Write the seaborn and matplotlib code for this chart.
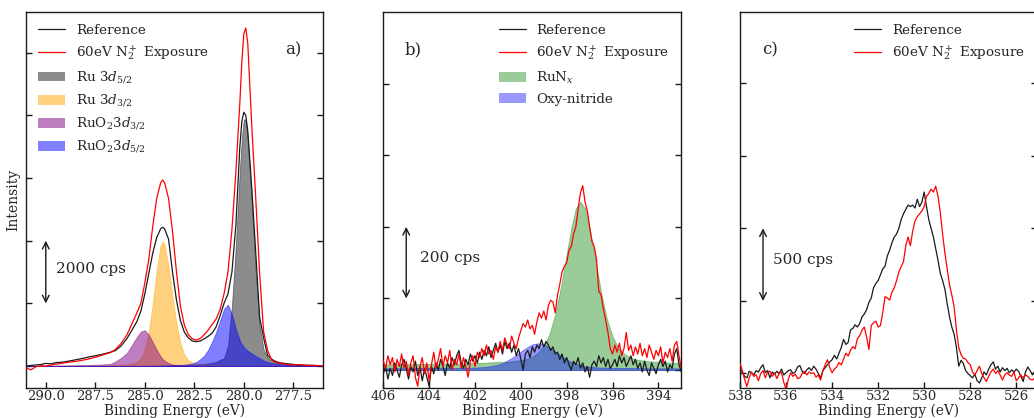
import matplotlib
matplotlib.use('Agg')
import matplotlib.pyplot as plt
import seaborn as sns

# ---------------- panel a : Ru 3d ----------------
E_a = [291.0, 290.75, 290.5, 290.25, 290.0, 289.75, 289.5, 289.25, 289.0, 288.75,
       288.5, 288.25, 288.0, 287.75, 287.5, 287.25, 287.0, 286.75, 286.5, 286.2,
       285.9, 285.6, 285.4, 285.2, 285.0, 284.8, 284.6, 284.4, 284.2, 284.1,
       284.0, 283.8, 283.6, 283.4, 283.2, 283.0, 282.8, 282.6, 282.4, 282.2,
       282.0, 281.8, 281.6, 281.4, 281.2, 281.0, 280.8, 280.6, 280.4, 280.2,
       280.1, 280.0, 279.9, 279.8, 279.6, 279.4, 279.2, 279.0, 278.8, 278.6,
       278.4, 278.2, 278.0, 277.75, 277.5, 277.25, 277.0, 276.75, 276.5, 276.25, 276.0]
ref_a = [0, 20, 35, 50, 85, 70, 110, 120, 140, 170,
         200, 230, 265, 300, 330, 360, 400, 440, 490, 640,
         880, 1200, 1420, 1750, 2300, 2950, 3600, 4100, 4380, 4430,
         4380, 4050, 3000, 2100, 1450, 1080, 900, 800, 780, 800,
         870, 950, 1050, 1250, 1600, 2000, 2300, 3000, 4500, 7000,
         7800, 8100, 8000, 7500, 5700, 3650, 1550, 900, 340, 220,
         150, 110, 90, 70, 55, 40, 30, 25, 20, 15, 10]
exp_a = [-60, -120, -20, 10, 0, 30, 60, 80, 107, 130,
         150, 175, 204, 240, 280, 330, 380, 430, 520, 720,
         1000, 1420, 1700, 2000, 2650, 3400, 4450, 5350, 5850, 5940,
         5850, 5350, 4300, 3000, 1900, 1300, 1000, 870, 830, 880,
         1000, 1150, 1330, 1500, 1800, 2300, 3000, 4350, 6200, 8400,
         9700, 10600, 10790, 10300, 7700, 5400, 2950, 1100, 500, 200,
         120, 90, 70, 50, 40, 45, 30, 20, 25, 10, 15]
ru52 = [3, 3, 3, 3, 3, 3, 3, 4, 4, 4,
        4, 5, 5, 5, 5, 6, 6, 7, 7, 8,
        9, 10, 11, 11, 12, 13, 14, 16, 17, 18,
        19, 21, 23, 26, 29, 33, 38, 43, 50, 58,
        70, 85, 105, 135, 200, 250, 650, 1920, 3870, 6270,
        7260, 7870, 7870, 7260, 5300, 3000, 1280, 530, 270, 170,
        120, 95, 80, 62, 50, 42, 36, 30, 25, 22, 20]
ru32 = [4, 4, 5, 5, 6, 6, 7, 7, 8, 9,
        11, 12, 13, 15, 17, 20, 23, 27, 33, 44,
        57, 87, 135, 246, 524, 1084, 1985, 3057, 3855, 3970,
        3875, 3180, 2220, 1350, 715, 357, 187, 115, 80, 62,
        51, 44, 37, 32, 28, 25, 21, 20, 18, 16,
        15, 15, 14, 14, 13, 12, 11, 10, 10, 9,
        9, 8, 8, 7, 7, 6, 6, 6, 5, 5, 5]
ruo2_32 = [10, 11, 12, 13, 15, 16, 18, 20, 22, 24,
           27, 30, 33, 37, 42, 48, 55, 68, 140, 260,
           420, 720, 930, 1100, 1145, 1005, 770, 520, 305, 230,
           170, 90, 50, 32, 23, 18, 15, 13, 11, 10,
           9, 8, 7, 7, 6, 6, 5, 5, 5, 4,
           4, 4, 4, 4, 4, 3, 3, 3, 3, 3,
           3, 3, 2, 2, 2, 2, 2, 2, 2, 2, 2]
ruo2_52 = [1, 1, 1, 1, 1, 1, 1, 2, 2, 2,
           2, 2, 2, 2, 2, 3, 3, 3, 3, 4,
           4, 5, 5, 5, 8, 8, 9, 10, 13, 15,
           17, 20, 24, 28, 35, 45, 60, 80, 130, 220,
           330, 520, 780, 1080, 1450, 1820, 1960, 1650, 1180, 820,
           700, 600, 540, 490, 400, 320, 250, 180, 130, 100,
           80, 65, 55, 47, 40, 35, 30, 27, 25, 22, 20]

# ---------------- panel b : N 1s ----------------
E_b = [round(406.0 - 0.1 * i, 1) for i in range(131)]
ref_b = [-10, 10, -25, 5, -15, 20, 0, -20, 15, 30,
         5, -25, 10, -5, 25, -15, 10, -30, 5, -20,
         -45, 10, -10, 20, 0, 30, 10, -15, 20, 5,
         35, 15, 40, 55, 20, 5, 30, 15, 45, 25,
         40, 20, 50, 30, 55, 40, 65, 35, 55, 75,
         50, 70, 45, 80, 60, 75, 50, 70, 40, 60,
         30, 0, 45, 55, 35, 65, 50, 70, 60, 85,
         65, 80, 70, 55, 65, 45, 50, 30, 45, 20,
         35, 15, 0, 25, 15, 35, 5, 20, -5, 10,
         -20, 15, 25, 10, 40, 20, 35, 10, 30, 5,
         15, 30, 10, 40, 20, 35, 10, 25, 40, 15,
         30, 5, 20, -5, 25, 0, -15, 20, 5, -10,
         15, 30, 10, 25, -5, 15, 5, 45, 60, 15, -5]
exp_b = [25, 5, 40, 15, 35, -5, 30, 10, 45, 5,
         25, -15, 20, 40, -20, -45, 10, 35, -10, 20,
         -30, 15, 50, 5, 30, 60, 10, 40, 20, 55,
         0, 30, 15, 45, 5, 35, 10, -20, 25, 40,
         10, 50, 35, 60, 40, 70, 45, 55, 30, 65,
         50, 80, 55, 90, 70, 60, 95, 75, 60, 90,
         110, 130, 120, 140, 115, 125, 100, 135, 160, 145,
         165, 140, 180, 195, 190, 160, 210, 240, 275, 290,
         300, 335, 345, 380, 400, 450, 495, 515, 470, 445,
         400, 360, 345, 310, 220, 210, 170, 140, 105, 60,
         45, 70, 50, 75, 40, 60, 105, 55, 70, 40,
         65, 45, 75, 40, 60, 35, 70, 50, 30, 55,
         40, 65, 20, 50, 35, 60, 25, 70, 80, 40, 5]
E_bfit = [406.0, 405.5, 405.0, 404.5, 404.0, 403.5, 403.0, 402.5, 402.0, 401.5,
          401.0, 400.75, 400.5, 400.25, 400.0, 399.75, 399.5, 399.25, 399.0, 398.75,
          398.5, 398.25, 398.0, 397.8, 397.6, 397.4, 397.2, 397.0, 396.75, 396.5,
          396.25, 396.0, 395.75, 395.5, 395.25, 395.0, 394.5, 394.0, 393.5, 393.0]
run_x = [16, 16, 17, 17, 17, 18, 18, 19, 20, 21,
         23, 23, 24, 26, 28, 31, 38, 49, 68, 101,
         156, 233, 324, 397, 452, 470, 452, 397, 308, 217,
         143, 94, 62, 46, 36, 30, 25, 23, 21, 20]
oxy_nit = [5, 5, 5, 6, 6, 6, 6, 6, 7, 9,
           15, 21, 30, 40, 52, 63, 72, 75, 72, 63,
           52, 40, 30, 23, 18, 13, 11, 9, 8, 7,
           7, 6, 6, 6, 6, 6, 5, 5, 5, 5]

# ---------------- panel c : O 1s ----------------
E_c = [round(538.0 - 0.1 * i, 1) for i in range(131)]
ref_c = [25, 10, -20, -30, 15, 5, -10, 20, 10, 40,
         60, 5, 20, -30, 10, -5, 15, 0, 30, -10,
         5, 20, 25, 0, 10, 45, 55, 15, 0, 25,
         40, 20, 50, 30, 0, -30, 20, 40, 60, 80,
         95, 125, 100, 140, 180, 235, 200, 215, 300, 310,
         335, 320, 345, 390, 410, 440, 490, 520, 590, 620,
         640, 680, 720, 740, 810, 850, 900, 940, 960, 1000,
         1060, 1100, 1130, 1160, 1150, 1160, 1140, 1200, 1150, 1180,
         1250, 1150, 1060, 1000, 940, 860, 780, 690, 640, 580,
         480, 390, 320, 270, 180, 50, 90, 70, 20, 0,
         -15, -30, -5, -50, -65, -30, 10, -10, 30, 60,
         80, 30, 50, 10, 40, 20, 35, 5, 25, 10,
         30, 15, -20, -55, 10, 45, 20, -10, 15, 30, 10]
exp_c = [70, 20, -40, -90, -30, 10, -20, -10, -50, 0,
         20, -30, 10, 15, -20, 5, -35, 0, 10, -60,
         -110, -40, 5, -20, -5, -35, -30, 0, 15, -10,
         10, 0, 5, -25, -10, -45, 20, 60, 95, 40,
         5, 30, 45, 75, 60, 100, 140, 120, 160, 185,
         170, 240, 260, 300, 320, 250, 165, 330, 350, 360,
         320, 330, 420, 530, 520, 505, 560, 590, 640, 700,
         735, 770, 880, 940, 880, 980, 1050, 1080, 1100, 1120,
         1150, 1220, 1240, 1270, 1250, 1290, 1220, 1110, 960, 830,
         720, 610, 540, 460, 300, 180, 130, 105, 100, 75,
         60, 10, -10, 20, 50, 0, -30, -55, -20, 10,
         30, 0, 20, -10, -45, -10, 5, -10, -20, 10,
         -50, -30, -10, -30, -10, -20, -40, -45, -30, -20, -25]

lbl_ref = 'Reference'
lbl_exp = '60eV N$_2^+$ Exposure'
RED = '#ff0000'
BLUE = '#0000ff'
GREEN = '#008000'

sns.set_theme(style='white')
plt.rcParams['font.family'] = ['DejaVu Serif']
plt.rcParams['mathtext.fontset'] = 'dejavuserif'

fig = plt.figure(figsize=(10.34, 4.18), dpi=100)
ax_a = fig.add_axes([0.02515, 0.07177, 0.28723, 0.89952])
ax_b = fig.add_axes([0.37070, 0.07177, 0.28820, 0.89952])
ax_c = fig.add_axes([0.71567, 0.07177, 0.28723, 0.89952])


def clean_legend(ax, loc):
    leg = ax.legend(loc=loc, frameon=False, fontsize=9.7)
    for h in leg.legend_handles:
        if isinstance(h, matplotlib.patches.Patch):
            h.set_linewidth(0)
    return leg


# panel a
sns.lineplot(x=E_a, y=ref_a, color='k', lw=0.9, label=lbl_ref, ax=ax_a, zorder=3)
sns.lineplot(x=E_a, y=exp_a, color=RED, lw=0.9, label=lbl_exp, ax=ax_a, zorder=3)
ax_a.fill_between(E_a, ru52, color='k', alpha=0.5, lw=0.6, label='Ru 3$d_{5/2}$')
ax_a.fill_between(E_a, ru32, color='orange', alpha=0.5, lw=0.6, label='Ru 3$d_{3/2}$')
ax_a.fill_between(E_a, ruo2_32, color='purple', alpha=0.5, lw=0.6, label='RuO$_2$3$d_{3/2}$')
ax_a.fill_between(E_a, ruo2_52, color=BLUE, alpha=0.5, lw=0.6, label='RuO$_2$3$d_{5/2}$')
ax_a.set_xlim(291, 276)
ax_a.set_ylim(-700, 11300)
ax_a.set_xticks([290.0, 287.5, 285.0, 282.5, 280.0, 277.5])
ax_a.set_xticklabels(['290.0', '287.5', '285.0', '282.5', '280.0', '277.5'])
ax_a.set_yticks([0, 2000, 4000, 6000, 8000, 10000])
clean_legend(ax_a, 'upper left')
ax_a.annotate('', xy=(290, 2000), xytext=(290, 4000),
              arrowprops=dict(arrowstyle='<->', color='k', lw=1, shrinkA=0, shrinkB=0))
ax_a.text(289.48, 3100, '2000 cps', fontsize=11, va='center', ha='left')
ax_a.text(0.872, 0.90, 'a)', transform=ax_a.transAxes, fontsize=12, va='center', ha='left')
ax_a.set_ylabel('Intensity', fontsize=10, labelpad=4)

# panel b
sns.lineplot(x=E_b, y=ref_b, color='k', lw=0.9, label=lbl_ref, ax=ax_b, zorder=3)
sns.lineplot(x=E_b, y=exp_b, color=RED, lw=0.9, label=lbl_exp, ax=ax_b, zorder=3)
ax_b.fill_between(E_bfit, run_x, color=GREEN, alpha=0.4, lw=0.6, label='RuN$_x$')
ax_b.fill_between(E_bfit, oxy_nit, color=BLUE, alpha=0.4, lw=0.6, label='Oxy-nitride')
ax_b.set_xlim(406, 393)
ax_b.set_ylim(-50, 1000)
ax_b.set_xticks([406, 404, 402, 400, 398, 396, 394])
ax_b.set_yticks([0, 200, 400, 600, 800])
clean_legend(ax_b, 'upper right')
ax_b.annotate('', xy=(405, 200), xytext=(405, 400),
              arrowprops=dict(arrowstyle='<->', color='k', lw=1, shrinkA=0, shrinkB=0))
ax_b.text(404.39, 313, '200 cps', fontsize=11, va='center', ha='left')
ax_b.text(0.07, 0.90, 'b)', transform=ax_b.transAxes, fontsize=12, va='center', ha='left')

# panel c
sns.lineplot(x=E_c, y=ref_c, color='k', lw=0.9, label=lbl_ref, ax=ax_c, zorder=3)
sns.lineplot(x=E_c, y=exp_c, color=RED, lw=0.9, label=lbl_exp, ax=ax_c, zorder=3)
ax_c.set_xlim(538, 525.1)
ax_c.set_ylim(-100, 2490)
ax_c.set_xticks([538, 536, 534, 532, 530, 528, 526])
ax_c.set_yticks([0, 500, 1000, 1500, 2000])
clean_legend(ax_c, 'upper right')
ax_c.annotate('', xy=(537, 500), xytext=(537, 1000),
              arrowprops=dict(arrowstyle='<->', color='k', lw=1, shrinkA=0, shrinkB=0))
ax_c.text(536.58, 780, '500 cps', fontsize=11, va='center', ha='left')
ax_c.text(0.073, 0.90, 'c)', transform=ax_c.transAxes, fontsize=12, va='center', ha='left')

for ax in (ax_a, ax_b, ax_c):
    for sp in ax.spines.values():
        sp.set_color('k')
        sp.set_linewidth(1)
    ax.tick_params(axis='y', left=True, right=True, labelleft=False, direction='in',
                   length=4.5, width=1, color='k')
    ax.tick_params(axis='x', bottom=True, top=False, direction='in', length=4.5,
                   width=1, color='k', labelsize=9.5, pad=1.5)
    ax.set_xlabel('Binding Energy (eV)', fontsize=9.8, labelpad=0.7)

fig.savefig('out.png', dpi=100)
